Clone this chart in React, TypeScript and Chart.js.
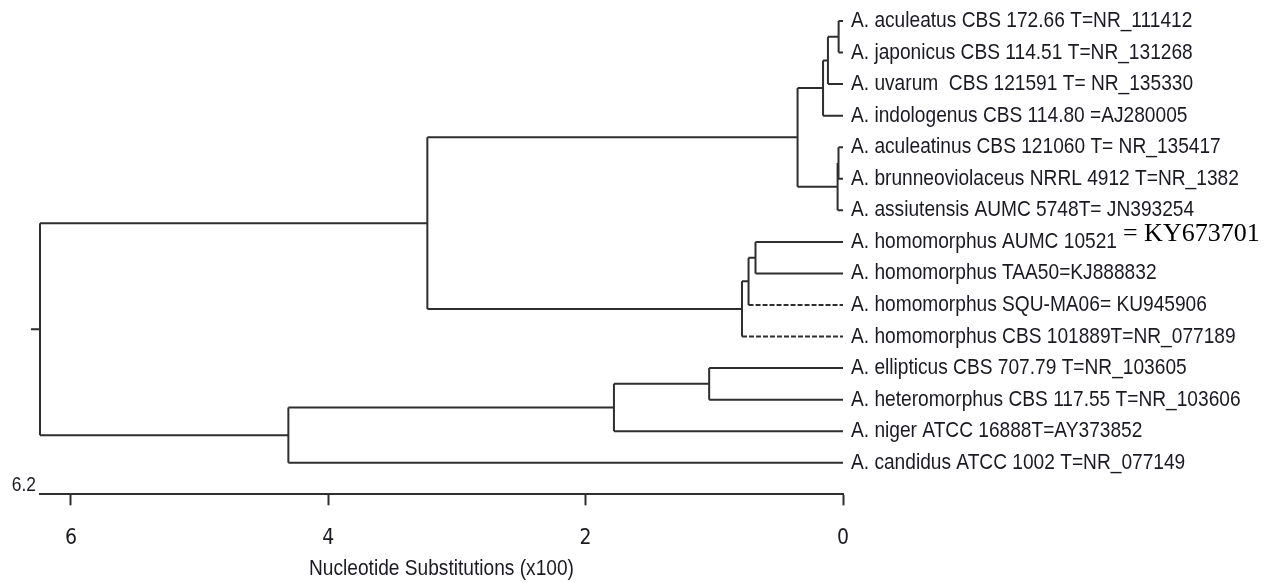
import React, { useEffect, useRef } from "react";
import { Chart, registerables } from "chart.js";

Chart.register(...registerables);

// Leaf labels, top to bottom (y index = position)
const leafLabels = [
  "A. aculeatus CBS 172.66 T=NR_111412",
  "A. japonicus CBS 114.51 T=NR_131268",
  "A. uvarum  CBS 121591 T= NR_135330",
  "A. indologenus CBS 114.80 =AJ280005",
  "A. aculeatinus CBS 121060 T= NR_135417",
  "A. brunneoviolaceus NRRL 4912 T=NR_1382",
  "A. assiutensis AUMC 5748T= JN393254",
  "A. homomorphus AUMC 10521",
  "A. homomorphus TAA50=KJ888832",
  "A. homomorphus SQU-MA06= KU945906",
  "A. homomorphus CBS 101889T=NR_077189",
  "A. ellipticus CBS 707.79 T=NR_103605",
  "A. heteromorphus CBS 117.55 T=NR_103606",
  "A. niger ATCC 16888T=AY373852",
  "A. candidus ATCC 1002 T=NR_077149",
];
const leafSuffix = ["", "", "", "", "", "", "", "= KY673701", "", "", "", "", "", "", ""];
const dashedLeaves = [9, 10];

// Internal nodes (ids 15..28): children and height (nucleotide substitutions x100)
const mergeLeft = [0, 15, 16, 4, 18, 17, 7, 21, 22, 20, 11, 25, 26, 24];
const mergeRight = [1, 2, 3, 5, 6, 19, 8, 9, 10, 23, 12, 13, 14, 27];
const mergeHeight = [0.034, 0.117, 0.155, 0.035, 0.042, 0.353, 0.68, 0.734, 0.785, 3.23, 1.04, 1.78, 4.31, 6.24];

const rootLabel = "6.2";
const rootStem = 0.07;
const xTicks = [0, 2, 4, 6];
const axisTitle = "Nucleotide Substitutions (x100)";

const SANS = '"Liberation Sans", Arial, sans-serif';
// Arial Narrow is not installed: emulate it by condensing Liberation Sans horizontally
const NARROW_FACTOR = 0.87;

function buildTree() {
  const n = leafLabels.length;
  const height: number[] = leafLabels.map(() => 0);
  const ypos: number[] = leafLabels.map((_, i) => i);
  mergeLeft.forEach((l, k) => {
    const r = mergeRight[k];
    height[n + k] = mergeHeight[k];
    ypos[n + k] = (ypos[l] + ypos[r]) / 2;
  });
  const solid: any[] = [];
  const dashed: any[] = [];
  const gap = { x: 0, y: null };
  mergeLeft.forEach((l, k) => {
    const r = mergeRight[k];
    const id = n + k;
    const h = height[id];
    solid.push({ x: h, y: ypos[l] }, { x: h, y: ypos[r] }, gap);
    [l, r].forEach((c) => {
      const target = dashedLeaves.includes(c) ? dashed : solid;
      target.push({ x: h, y: ypos[c] }, { x: height[c], y: ypos[c] }, gap);
    });
  });
  const rootId = n + mergeLeft.length - 1;
  solid.push({ x: height[rootId], y: ypos[rootId] }, { x: height[rootId] + rootStem, y: ypos[rootId] });
  return { solid, dashed };
}

function narrowText(ctx: any, text: string, x: number, y: number, align: string) {
  ctx.save();
  ctx.translate(x, y);
  ctx.scale(NARROW_FACTOR, 1);
  ctx.textAlign = align;
  ctx.fillText(text, 0, 0);
  ctx.restore();
  return ctx.measureText(text).width * NARROW_FACTOR;
}

const labelPlugin = {
  id: "leafLabels",
  afterDatasetsDraw(chart: any) {
    const { ctx, scales } = chart;
    const xs = scales.x;
    const ys = scales.y;
    ctx.save();
    ctx.fillStyle = "#1a1a22";
    ctx.textBaseline = "middle";
    leafLabels.forEach((lab, i) => {
      const x = xs.getPixelForValue(0) + 8;
      const y = ys.getPixelForValue(i);
      ctx.font = `22px ${SANS}`;
      const w = narrowText(ctx, lab, x, y, "left");
      if (leafSuffix[i]) {
        ctx.font = `26px "Liberation Serif", "Times New Roman", serif`;
        ctx.fillStyle = "#000";
        ctx.textAlign = "left";
        ctx.fillText(leafSuffix[i], x + w + 6, y - 8);
        ctx.fillStyle = "#1a1a22";
      }
    });
    // root depth label next to the axis start
    ctx.font = `20px ${SANS}`;
    narrowText(ctx, rootLabel, xs.getPixelForValue(mergeHeight[mergeHeight.length - 1]) - 4, ys.bottom - 9, "right");
    // axis title
    ctx.font = `22px ${SANS}`;
    narrowText(ctx, axisTitle, (xs.left + xs.right) / 2, 569, "center");
    ctx.restore();
  },
};

export default function App() {
  const ref = useRef<HTMLCanvasElement>(null);
  useEffect(() => {
    if (!ref.current) return;
    const { solid, dashed } = buildTree();
    const chart = new Chart(ref.current, {
      type: "scatter",
      data: {
        datasets: [
          {
            data: solid,
            showLine: true,
            borderColor: "#2e2e2e",
            borderWidth: 2,
            pointRadius: 0,
            spanGaps: false,
            clip: false as any,
          },
          {
            data: dashed,
            showLine: true,
            borderColor: "#2e2e2e",
            borderWidth: 2,
            borderDash: [5, 2],
            pointRadius: 0,
            spanGaps: false,
            clip: false as any,
          },
        ],
      },
      options: {
        animation: false,
        responsive: false,
        devicePixelRatio: 1,
        events: [],
        layout: { padding: { left: 40, right: 424, top: 0, bottom: 0 } },
        plugins: { legend: { display: false }, tooltip: { enabled: false } },
        scales: {
          x: {
            type: "linear",
            reverse: true,
            min: 0,
            max: mergeHeight[mergeHeight.length - 1],
            afterBuildTicks: (s: any) => {
              s.ticks = xTicks.map((v) => ({ value: v }));
            },
            afterFit: (s: any) => {
              s.height = 88.7;
            },
            grid: {
              display: true,
              drawOnChartArea: false,
              drawTicks: true,
              tickLength: 11,
              tickWidth: 2,
              tickColor: "#2e2e2e",
            },
            border: { display: true, color: "#2e2e2e", width: 2 },
            ticks: {
              color: "#1a1a22",
              font: { family: '"DejaVu Sans Condensed", sans-serif', size: 21 },
              padding: 21,
              maxRotation: 0,
              callback: (v: any) => String(v),
            },
            title: { display: false, text: axisTitle },
          },
          y: {
            type: "linear",
            reverse: true,
            min: -0.666,
            max: 15,
            display: false,
          },
        },
      },
      plugins: [labelPlugin],
    });
    return () => chart.destroy();
  }, []);
  return (
    <div style={{ position: "fixed", left: 0, top: 0, width: 1267, height: 583, background: "#fff" }}>
      <canvas ref={ref} width={1267} height={583} />
    </div>
  );
}
